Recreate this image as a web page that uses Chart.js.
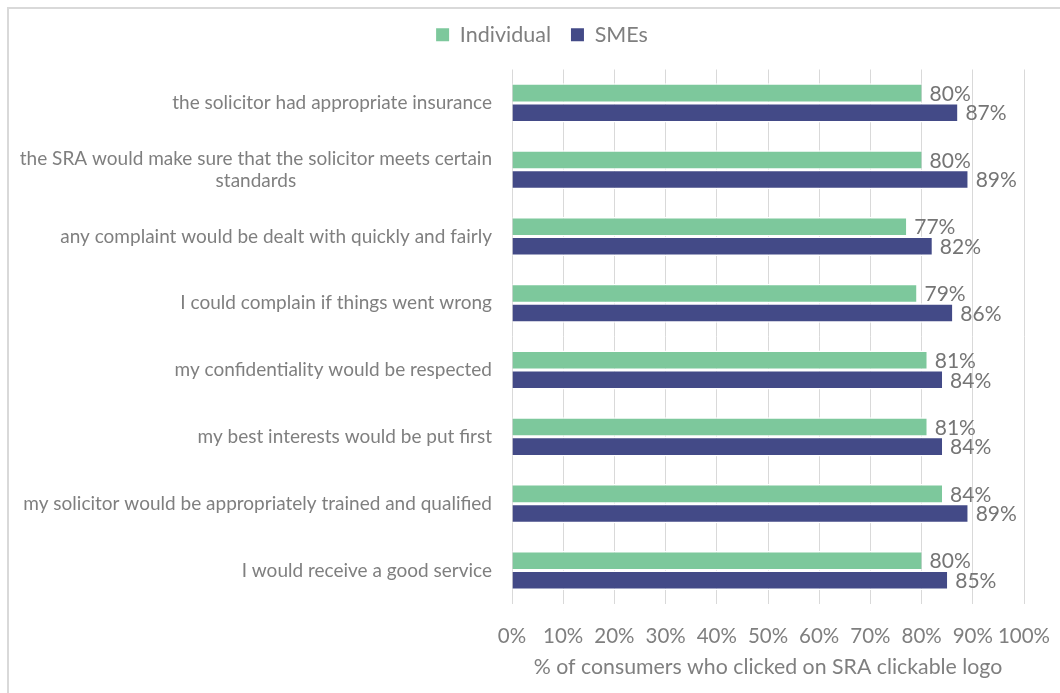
<!DOCTYPE html>
<html lang="en">
<head>
    <meta charset="UTF-8">
    <title>SRA clickable logo</title>
    <script src="https://cdn.jsdelivr.net/npm/chart.js"></script>
    <style>
        body { margin: 0; background: #fff; }
        #box { width: 1060px; height: 693px; }
    </style>
</head>
<body>
    <div id="box">
        <canvas id="grafico1" width="1060" height="693"></canvas>
    </div>

    <script>
        const categorias = [
          "the solicitor had appropriate insurance",
          ["the SRA would make sure that the solicitor meets certain", "standards"],
          "any complaint would be dealt with quickly and fairly",
          "I could complain if things went wrong",
          "my confidentiality would be respected",
          "my best interests would be put first",
          "my solicitor would be appropriately trained and qualified",
          "I would receive a good service"
        ]
        const individual = [80, 80, 77, 79, 81, 81, 84, 80]
        const smes = [87, 89, 82, 86, 84, 84, 89, 85]
        const ticksX = [0, 10, 20, 30, 40, 50, 60, 70, 80, 90, 100]

        const fonte = "Lato, 'Open Sans', sans-serif"
        const cinza = "#7f7f7f"

        // moldura cinza do grafico
        const moldura = {
          id: "moldura",
          beforeDraw(chart) {
            const c = chart.ctx
            c.save()
            c.strokeStyle = "#d9d9d9"
            c.lineWidth = 2
            c.strokeRect(8, 8, 1100, 740)
            c.restore()
          }
        }

        // rotulos do eixo Y, linhas centradas e bloco alinhado a direita
        const rotulosY = {
          id: "rotulosY",
          afterDraw(chart) {
            const c = chart.ctx
            const y = chart.scales.y
            c.save()
            c.font = "19px " + fonte
            c.fillStyle = cinza
            c.textAlign = "center"
            c.textBaseline = "middle"
            categorias.forEach((lab, i) => {
              const linhas = Array.isArray(lab) ? lab : [lab]
              const larg = Math.max(...linhas.map(l => c.measureText(l).width))
              const cx = chart.chartArea.left - 20 - larg / 2
              const cy = y.getPixelForTick(i)
              const alt = 22
              linhas.forEach((l, k) => {
                c.fillText(l, cx, cy + (k - (linhas.length - 1) / 2) * alt)
              })
            })
            c.restore()
          }
        }

        // valores no fim das barras
        const valoresBarras = {
          id: "valoresBarras",
          afterDatasetsDraw(chart) {
            const c = chart.ctx
            c.save()
            c.font = "21px " + fonte
            c.fillStyle = "#757575"
            c.textAlign = "left"
            c.textBaseline = "middle"
            chart.data.datasets.forEach((ds, d) => {
              chart.getDatasetMeta(d).data.forEach((bar, i) => {
                c.fillText(ds.data[i] + "%", bar.x + 8, bar.y + 1)
              })
            })
            c.restore()
          }
        }

        const ctx = document.getElementById("grafico1")

        let grafico1 = new Chart(ctx, {
          type: "bar",
          data: {
            labels: categorias,
            datasets: [{
              label: "Individual",
              data: individual,
              backgroundColor: "#7dc89c",
              borderColor: "#ffffff",
              borderWidth: { top: 1.5, bottom: 1.5, left: 0, right: 0 },
              borderSkipped: false,
              categoryPercentage: 0.585,
              barPercentage: 1
            }, {
              label: "SMEs",
              data: smes,
              backgroundColor: "#434a87",
              borderColor: "#ffffff",
              borderWidth: { top: 1.5, bottom: 1.5, left: 0, right: 0 },
              borderSkipped: false,
              categoryPercentage: 0.585,
              barPercentage: 1
            }]
          },
          options: {
            indexAxis: "y",
            responsive: false,
            animation: false,
            layout: { padding: { left: 60, right: 36, top: 4, bottom: 13 } },
            plugins: {
              legend: {
                position: "top",
                labels: {
                  boxWidth: 13,
                  boxHeight: 13,
                  color: cinza,
                  padding: 20,
                  font: { family: fonte, size: 21.5 },
                  generateLabels(chart) {
                    return chart.data.datasets.map((ds, i) => ({
                      text: ds.label,
                      fillStyle: ds.backgroundColor,
                      strokeStyle: ds.backgroundColor,
                      lineWidth: 0,
                      fontColor: cinza,
                      datasetIndex: i
                    }))
                  }
                }
              },
              tooltip: { enabled: false }
            },
            scales: {
              x: {
                min: 0,
                max: 100,
                afterBuildTicks(scale) {
                  scale.ticks = ticksX.map(v => ({ value: v }))
                },
                afterFit(scale) {
                  scale.paddingLeft = 0
                  scale.paddingRight = 0
                },
                grid: { color: "#d9d9d9", lineWidth: 1, drawTicks: false },
                border: { display: false },
                ticks: {
                  color: cinza,
                  padding: 20,
                  maxRotation: 0,
                  minRotation: 0,
                  autoSkip: false,
                  font: { family: fonte, size: 20.5 },
                  callback: v => v + "%"
                },
                title: {
                  display: true,
                  text: "% of consumers who clicked on SRA clickable logo",
                  color: cinza,
                  font: { family: fonte, size: 21.3 },
                  padding: { top: -14, bottom: 0 }
                }
              },
              // eixo vazio no topo, so para dar espaco abaixo da legenda
              espaco: {
                type: "linear",
                position: "top",
                grid: { display: false },
                border: { display: false },
                ticks: { display: false },
                afterFit(scale) {
                  scale.height = 14
                  scale.paddingLeft = 0
                  scale.paddingRight = 0
                }
              },
              y: {
                grid: { display: false },
                border: { display: false },
                ticks: { display: false },
                afterFit(scale) {
                  scale.width = 452
                }
              }
            }
          },
          plugins: [moldura, rotulosY, valoresBarras]
        })
    </script>
</body>
</html>
